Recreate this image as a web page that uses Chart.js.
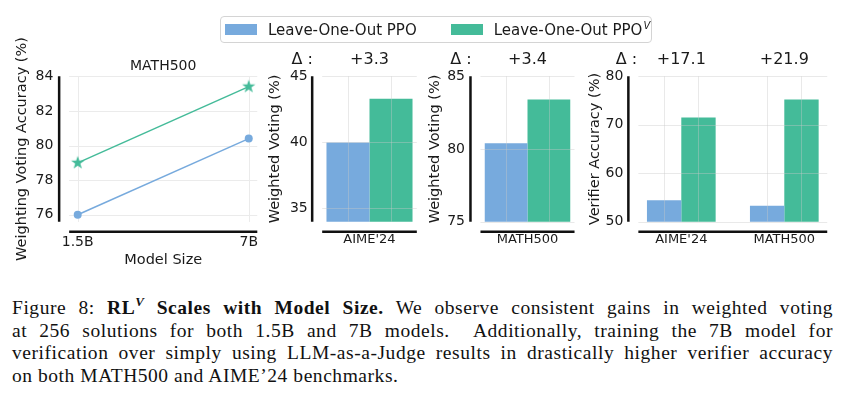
<!DOCTYPE html>
<html lang="en">
<head>
<meta charset="UTF-8" />
<title>RL^V Scales with Model Size</title>
<style>
body {
  margin: 0;
  width: 846px;
  height: 396px;
  position: relative;
  overflow: hidden;
  background: #fff;
  color: #1a1a1a;
  font-family: 'DejaVu Sans', sans-serif;
}
canvas { position: absolute; top: 0; }
#legend {
  position: absolute;
  left: 220px;
  top: 16px;
  width: 430px;
  height: 25px;
  border: 1px solid #d4d4d4;
  border-radius: 4px;
  display: flex;
  align-items: center;
  font-size: 15px;
  white-space: nowrap;
}
#legend .item { display: flex; align-items: center; }
#legend .item + .item { margin-left: 30px; }
#legend .sw { width: 32px; height: 11px; margin-left: 4px; margin-right: 11px; }
#legend sup { font-size: 10px; font-style: italic; vertical-align: 6px; margin-left: 1px; }
#caption {
  position: absolute;
  left: 12px;
  top: 297px;
  width: 821px;
  font-family: 'Liberation Serif', serif;
  font-size: 19.5px;
  letter-spacing: 0.55px;
  line-height: 22.5px;
  color: #111;
}
#caption .ln { text-align: justify; text-align-last: justify; white-space: nowrap; }
#caption .ln.last { text-align-last: left; }
#caption sup { font-size: 13px; vertical-align: 8px; line-height: 0; }
</style>
</head>
<body>

<canvas id="scaleChart" width="270" height="270" style="left:0px"></canvas>
<canvas id="aimeChart" width="170" height="270" style="left:260px"></canvas>
<canvas id="mathChart" width="170" height="270" style="left:420px"></canvas>
<canvas id="verifierChart" width="266" height="270" style="left:580px"></canvas>

<div id="legend"></div>

<div id="caption">
  <div class="ln">Figure 8: <b>RL<sup><i>V</i></sup> Scales with Model Size.</b> We observe consistent gains in weighted voting</div>
  <div class="ln">at 256 solutions for both 1.5B and 7B models.&nbsp; Additionally, training the 7B model for</div>
  <div class="ln">verification over simply using LLM-as-a-Judge results in drastically higher verifier accuracy</div>
  <div class="ln last">on both MATH500 and AIME’24 benchmarks.</div>
</div>

<script src="https://cdn.jsdelivr.net/npm/chart.js"></script>
<script>
// series names
const seriesNames = ['Leave-One-Out PPO', 'Leave-One-Out PPO'];
const seriesSup = ['', 'V'];

// panel 1: MATH500 weighted voting vs model size
const modelSizes = ['1.5B', '7B'];
const scaleLoo = [76.0, 80.4];
const scaleLooV = [79.0, 83.4];
const scaleTicks = [76, 78, 80, 82, 84];
const scaleRange = [75.6, 84];

// panel 2: AIME'24 weighted voting
const aimeCats = ["AIME'24"];
const aimeLoo = [40.0];
const aimeLooV = [43.3];
const aimeDeltas = ['+3.3'];
const aimeTicks = [35, 40, 45];
const aimeRange = [34, 45];

// panel 3: MATH500 weighted voting
const mathCats = ['MATH500'];
const mathLoo = [80.4];
const mathLooV = [83.4];
const mathDeltas = ['+3.4'];
const mathTicks = [75, 80, 85];
const mathRange = [75, 85];

// panel 4: verifier accuracy
const verifierCats = ["AIME'24", 'MATH500'];
const verifierLoo = [54.4, 53.3];
const verifierLooV = [71.5, 75.2];
const verifierDeltas = ['+17.1', '+21.9'];
const verifierTicks = [50, 60, 70, 80];
const verifierRange = [50, 80];

const INK = '#1a1a1a';
const BLUE = '#77AADD';
const GREEN = '#44BB99';
const FONT = "'DejaVu Sans', sans-serif";

Chart.defaults.font.family = FONT;
Chart.defaults.color = INK;
Chart.defaults.animation = false;

// legend
const legend = document.getElementById('legend');
[BLUE, GREEN].forEach((c, i) => {
  const item = document.createElement('span');
  item.className = 'item';
  item.innerHTML = '<span class="sw" style="background:' + c + '"></span><span>' + seriesNames[i] +
    (seriesSup[i] ? '<sup>' + seriesSup[i] + '</sup>' : '') + '</span>';
  legend.appendChild(item);
});

// filled 5-point star like matplotlib's '*'
function starImage(color, r) {
  const s = 16;
  const c = document.createElement('canvas');
  c.width = c.height = s;
  const g = c.getContext('2d');
  g.fillStyle = color;
  g.beginPath();
  for (let k = 0; k < 10; k++) {
    const rr = k % 2 ? r * 0.39 : r;
    const ang = -Math.PI / 2 + k * Math.PI / 5;
    g.lineTo(s / 2 + rr * Math.cos(ang), s / 2 + rr * Math.sin(ang));
  }
  g.closePath();
  g.fill();
  return c;
}

// extent of the drawn marks, with 5% margin like matplotlib
function markBox(chart) {
  let lo = Infinity, hi = -Infinity;
  const xs = [];
  chart.data.datasets.forEach((ds, i) => {
    chart.getDatasetMeta(i).data.forEach(el => {
      const half = el.width ? el.width / 2 : 0;
      lo = Math.min(lo, el.x - half);
      hi = Math.max(hi, el.x + half);
      xs.push(el.x);
    });
  });
  const m = 0.05 * (hi - lo);
  return { left: lo - m, right: hi + m, xs };
}

function drawGrid(chart, color) {
  const { ctx, chartArea: a } = chart;
  const box = markBox(chart);
  const ys = chart.scales.y;
  ctx.save();
  ctx.strokeStyle = color;
  ctx.lineWidth = 1;
  ctx.beginPath();
  ys.ticks.forEach(t => {
    const y = Math.round(ys.getPixelForValue(t.value)) + 0.5;
    ctx.moveTo(box.left, y);
    ctx.lineTo(box.right, y);
  });
  box.xs.forEach(x => {
    const px = Math.round(x) + 0.5;
    ctx.moveTo(px, a.top);
    ctx.lineTo(px, a.bottom);
  });
  ctx.stroke();
  ctx.restore();
}

// grid, offset spines, panel title and delta labels
const panelDecor = {
  id: 'panelDecor',
  beforeDatasetsDraw(chart, args, o) {
    if (!o.gridOnTop) drawGrid(chart, '#ebebeb');
  },
  afterDatasetsDraw(chart, args, o) {
    if (o.gridOnTop) drawGrid(chart, 'rgba(200,200,200,0.4)');
    const { ctx, chartArea: a } = chart;
    const box = markBox(chart);
    ctx.save();
    ctx.strokeStyle = '#111';
    ctx.lineWidth = 2.5;
    ctx.beginPath();
    ctx.moveTo(box.left - 10, a.top);
    ctx.lineTo(box.left - 10, a.bottom);
    ctx.moveTo(box.left, a.bottom + 10);
    ctx.lineTo(box.right, a.bottom + 10);
    ctx.stroke();
    ctx.fillStyle = INK;
    ctx.textBaseline = 'alphabetic';
    ctx.textAlign = 'center';
    if (o.title) {
      ctx.font = '14px ' + FONT;
      ctx.fillText(o.title, (a.left + a.right) / 2, 70);
    }
    if (o.deltas) {
      ctx.font = '16px ' + FONT;
      ctx.fillText('Δ :', box.left - 10 + o.deltaShift, 63.5);
      const xs = chart.scales.x;
      o.deltas.forEach((d, i) => ctx.fillText(d, xs.getPixelForValue(i), 63.5));
    }
    ctx.restore();
  }
};

function yAxis(range, ticks, title, width, tickPad, titlePad) {
  return {
    min: range[0],
    max: range[1],
    afterBuildTicks: s => { s.ticks = ticks.map(v => ({ value: v })); },
    afterFit: s => { s.width = width; },
    grid: { display: false, drawTicks: false },
    border: { display: false },
    ticks: { padding: tickPad, font: { size: 14 }, color: INK },
    title: { display: true, text: title, color: INK, font: { size: 14.5 }, padding: { top: titlePad, bottom: 0 } }
  };
}

function xAxis(tickSize, tickPad, title) {
  return {
    afterFit: s => { s.height = 48.3; },
    grid: { display: false, drawTicks: false },
    border: { display: false },
    ticks: { padding: tickPad, font: { size: tickSize }, color: INK, maxRotation: 0, autoSkip: false },
    title: { display: !!title, text: title || '', color: INK, font: { size: 14.5 }, padding: { top: 0, bottom: 1.3 } }
  };
}

// panel 1: line chart
new Chart(document.getElementById('scaleChart'), {
  type: 'line',
  data: {
    labels: modelSizes,
    datasets: [{
      label: seriesNames[0],
      data: scaleLoo,
      borderColor: BLUE,
      backgroundColor: BLUE,
      borderWidth: 1.5,
      pointRadius: 4,
      pointBorderWidth: 0,
      pointBackgroundColor: BLUE,
      clip: false
    }, {
      label: seriesNames[1] + seriesSup[1],
      data: scaleLooV,
      borderColor: GREEN,
      backgroundColor: GREEN,
      borderWidth: 1.5,
      pointStyle: starImage(GREEN, 7),
      pointRadius: 7,
      clip: false
    }]
  },
  options: {
    responsive: false,
    layout: { padding: { top: 76.3, right: 20.7, left: 0, bottom: 0 } },
    plugins: {
      legend: { display: false },
      tooltip: { enabled: false },
      panelDecor: { title: 'MATH500' }
    },
    scales: {
      x: xAxis(14, 12, 'Model Size'),
      y: yAxis(scaleRange, scaleTicks, 'Weighting Voting Accuracy (%)', 77.7, 24.4, 13.3)
    }
  },
  plugins: [panelDecor]
});

function barChart(id, cats, loo, looV, range, ticks, deltas, title, yWidth, tickPad, rightPad, catPct, deltaShift) {
  return new Chart(document.getElementById(id), {
    type: 'bar',
    data: {
      labels: cats,
      datasets: [
        { label: seriesNames[0], data: loo, backgroundColor: BLUE },
        { label: seriesNames[1] + seriesSup[1], data: looV, backgroundColor: GREEN }
      ]
    },
    options: {
      responsive: false,
      datasets: { bar: { categoryPercentage: catPct, barPercentage: 1, borderWidth: 0 } },
      layout: { padding: { top: 76.3, right: rightPad, left: 0, bottom: 0 } },
      plugins: {
        legend: { display: false },
        tooltip: { enabled: false },
        panelDecor: { gridOnTop: true, deltas: deltas, deltaShift: deltaShift }
      },
      scales: {
        x: xAxis(13, 10),
        y: yAxis(range, ticks, title, yWidth, tickPad, 6.3)
      }
    },
    plugins: [panelDecor]
  });
}

barChart('aimeChart', aimeCats, aimeLoo, aimeLooV, aimeRange, aimeTicks, aimeDeltas,
  'Weighted Voting (%)', 61.7, 14, 12.7, 0.9, -10);
barChart('mathChart', mathCats, mathLoo, mathLooV, mathRange, mathTicks, mathDeltas,
  'Weighted Voting (%)', 60, 15, 15, 0.9, -9.5);
barChart('verifierChart', verifierCats, verifierLoo, verifierLooV, verifierRange, verifierTicks, verifierDeltas,
  'Verifier Accuracy (%)', 49.8, 6.5, 10.2, 0.667, -2);
</script>
</body>
</html>
